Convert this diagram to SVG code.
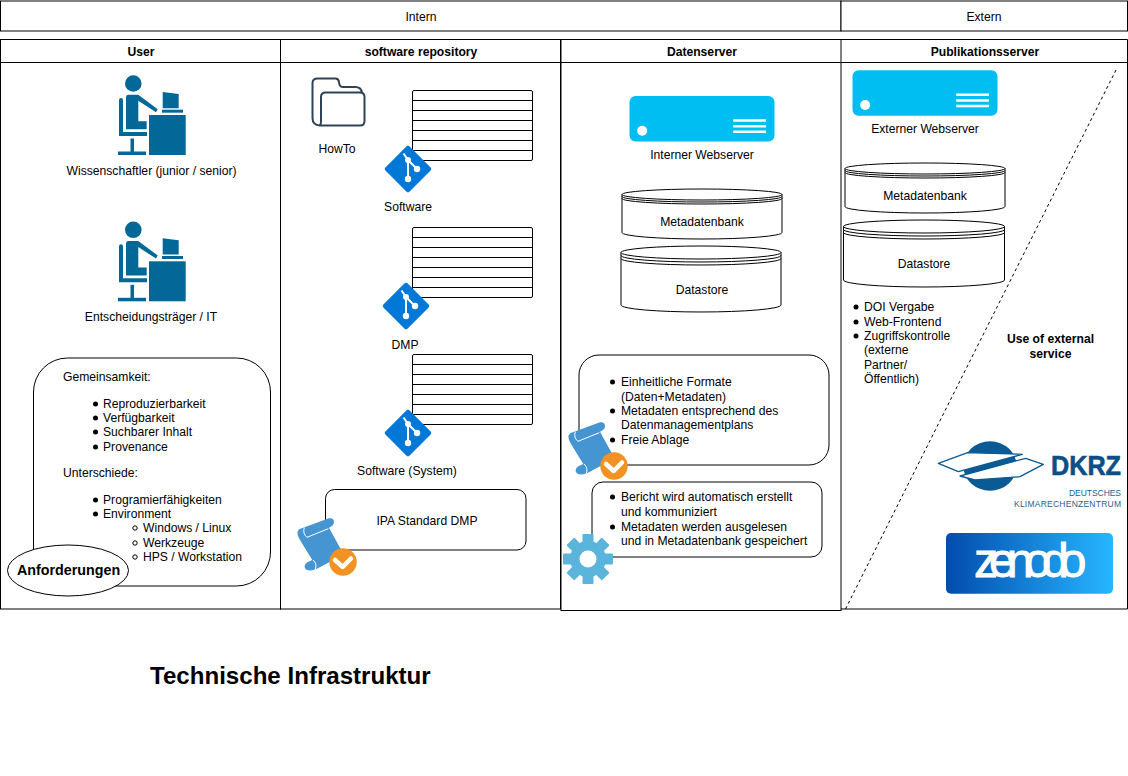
<svg xmlns="http://www.w3.org/2000/svg" width="1128" height="776" viewBox="0 0 1128 776">
<style>
text{font-family:"Liberation Sans",Arial,sans-serif;font-size:12.150px;fill:#000}
.c{text-anchor:middle}
.b{font-weight:bold}
.box{fill:#fff;stroke:#000;stroke-width:1}
.line{fill:none;stroke:#000;stroke-width:1}
.dot{fill:#000}
.odot{fill:#fff;stroke:#000;stroke-width:1}
.srv{fill:#00bef2}
.srvl{stroke:#fff;stroke-width:2.500}
</style>
<defs>
<linearGradient id="zg" x1="0" x2="1" y1="0" y2="0"><stop offset="0" stop-color="#024cae"/><stop offset="1" stop-color="#26b6ff"/></linearGradient>
<g id="person" fill="#036897">
<circle cx="133.3" cy="83.5" r="8.3"/>
<path d="M119 100q0-2 2-2h0q2 0 2 2V132H147V136H119Z"/>
<rect x="130.5" y="138.5" width="3.500" height="14"/>
<rect x="118" y="151.500" width="28" height="3.500"/>
<path d="M126 97q0-2.300 2.500-2.300H138.300L157.700 109.300L156 112.300L138.300 100.700V121.300H146.700V129.300H126Z"/>
<rect x="149" y="115" width="36.700" height="40"/>
<rect x="162" y="109.700" width="21" height="3"/>
<path d="M162.700 92L178.700 94V108.300H162.700Z"/>
</g>
<g id="git">
<rect x="-17" y="-17" width="34" height="34" rx="2" fill="#0078d7" transform="rotate(45)"/>
<path d="M-4.500 -15.500L0 -9V10M0 -9L9 0" fill="none" stroke="#fff" stroke-width="2"/>
<circle cx="0" cy="10" r="3.200" fill="#fff"/><circle cx="9" cy="0" r="3.200" fill="#fff"/><circle cx="0" cy="-9" r="3" fill="#fff"/>
</g>
<g id="rows">
<rect x="0" y="0" width="120" height="70" rx="1.500" class="box"/>
<path class="line" d="M0 10H120M0 20H120M0 30H120M0 40H120M0 50H120M0 60H120"/>
</g>
<g id="server">
<rect x="0" y="0" width="145" height="45.500" rx="6" class="srv"/>
<circle cx="12.700" cy="34.700" r="5" fill="#fff"/>
<path class="srvl" d="M103.700 24.500H136.500M103.700 30.300H136.500M103.700 35.800H136.500"/>
</g>
<g id="scroll">
<g transform="translate(285 480) scale(.33333)">
<path fill="#4495d1" d="M42 148L132 115Q147 113 147 127Q147 137 132 143L170 212L135 245L93 268Q65 278 59 262Q57 250 75 243L82 240L50 188Q30 160 42 148Z"/>
<path fill="none" stroke="#fff" stroke-width="3" d="M58 143Q52 160 66 172L130 146M84 240Q98 252 90 270"/>
</g>
<circle cx="343" cy="562" r="13.700" fill="#f29222"/>
<path d="M335 560L342.700 567L351 558.500" fill="none" stroke="#fff" stroke-width="4.500" stroke-linecap="round" stroke-linejoin="round"/>
</g>
</defs>

<g id="connectors">
<path d="M1116 70L845 610" fill="none" stroke="#000" stroke-dasharray="3 3"/>
</g>

<g id="band-intern"><rect class="box" x="0.500" y="1" width="840.500" height="30"/><text class="c" x="421" y="21">Intern</text></g>
<g id="band-extern"><rect class="box" x="841" y="1" width="286.500" height="30"/><text class="c" x="984" y="21">Extern</text></g>

<g id="lane-user"><rect x="0.500" y="39.500" width="280" height="569.500" fill="none" stroke="#000"/><path class="line" d="M0.500 62.500H280.500"/><text class="c b" x="141" y="56">User</text></g>
<g id="lane-repo"><rect x="280.500" y="39.500" width="280" height="569.500" fill="none" stroke="#000"/><path class="line" d="M280.500 62.500H560.500"/><text class="c b" x="421" y="56">software repository</text></g>
<g id="lane-daten"><rect x="561" y="39.500" width="280" height="571" fill="none" stroke="#000"/><path class="line" d="M561 62.500H841"/><text class="c b" x="702" y="56">Datenserver</text></g>
<g id="lane-pub"><path fill="none" stroke="#000" d="M841 39.500H1127.500V609H841M841 62.500H1127.500"/><text class="c b" x="985" y="56">Publikationsserver</text></g>

<g id="wissenschaftler"><use href="#person"/><text class="c" x="151.500" y="175">Wissenschaftler (junior / senior)</text></g>
<g id="entscheidung"><use href="#person" y="146.300"/><text class="c" x="151" y="321">Entscheidungsträger / IT</text></g>

<g id="anforderungen">
<rect class="box" x="33.500" y="358" width="237" height="228" rx="34"/>
<text x="63" y="381">Gemeinsamkeit:</text>
<circle class="dot" cx="95.500" cy="404" r="2.500"/><text x="103" y="408">Reproduzierbarkeit</text>
<circle class="dot" cx="95.500" cy="418" r="2.500"/><text x="103" y="422">Verfügbarkeit</text>
<circle class="dot" cx="95.500" cy="432" r="2.500"/><text x="103" y="436">Suchbarer Inhalt</text>
<circle class="dot" cx="95.500" cy="447" r="2.500"/><text x="103" y="451">Provenance</text>
<text x="63" y="477">Unterschiede:</text>
<circle class="dot" cx="95.500" cy="500" r="2.500"/><text x="103" y="504">Programierfähigkeiten</text>
<circle class="dot" cx="95.500" cy="514" r="2.500"/><text x="103" y="518">Environment</text>
<circle class="odot" cx="135" cy="528" r="2.200"/><text x="143" y="532">Windows / Linux</text>
<circle class="odot" cx="135" cy="543" r="2.200"/><text x="143" y="547">Werkzeuge</text>
<circle class="odot" cx="135" cy="557" r="2.200"/><text x="143" y="561">HPS / Workstation</text>
<ellipse class="box" cx="68" cy="570.500" rx="60.500" ry="25.500"/>
<text class="c b" x="68.500" y="575" style="font-size:14.300px">Anforderungen</text>
</g>

<g id="howto">
<path fill="none" stroke="#2f4358" stroke-width="2" stroke-linejoin="round" d="M320 125.500Q312.500 125 312.500 118V83Q312.500 78.500 317.500 78.500H335.500Q338.500 78.500 339 82Q339.500 87 342.500 87H355.500Q361 87 362 92.500M325.500 92.500H360Q364.500 92.500 364.500 97V121Q364.500 125.500 360 125.500H320Q321 124.500 321 121V97Q321 92.500 325.500 92.500Z"/>
<text class="c" x="337" y="153">HowTo</text>
</g>

<g id="software">
<use href="#rows" x="412.500" y="90.500"/>
<use href="#git" x="408" y="169"/>
<text class="c" x="408" y="211">Software</text>
</g>
<g id="dmp">
<use href="#rows" x="412.500" y="227.500"/>
<use href="#git" x="406" y="306"/>
<text class="c" x="405" y="349">DMP</text>
</g>
<g id="software-system">
<use href="#rows" x="412.500" y="354.500"/>
<use href="#git" x="408" y="433"/>
<text class="c" x="407" y="475">Software (System)</text>
</g>
<g id="ipa">
<rect class="box" x="325.500" y="489.500" width="200.500" height="60.500" rx="9"/>
<text class="c" x="427" y="525">IPA Standard DMP</text>
<use href="#scroll"/>
</g>

<g id="interner-webserver"><use href="#server" x="629.500" y="96"/><text class="c" x="702" y="159">Interner Webserver</text></g>
<g id="metadatenbank-int">
<path class="box" d="M622 194.500V232.500A80 6.500 0 0 0 782 232.500V194.500"/>
<ellipse class="box" cx="702" cy="194.500" rx="80" ry="5.500"/>
<path class="line" d="M622 196.500A80 5.500 0 0 0 782 196.500M622 198.500A80 5.500 0 0 0 782 198.500"/>
<text class="c" x="702" y="226">Metadatenbank</text>
</g>
<g id="datastore-int">
<path class="box" d="M621 252.500V305A80 7 0 0 0 781 305V252.500"/>
<ellipse class="box" cx="701" cy="252.500" rx="80" ry="6.500"/>
<path class="line" d="M621 255.500A80 6.500 0 0 0 781 255.500M621 258.500A80 6.500 0 0 0 781 258.500"/>
<text class="c" x="702" y="294">Datastore</text>
</g>

<g id="formate">
<rect class="box" x="579" y="355" width="250" height="110" rx="20"/>
<circle class="dot" cx="612.500" cy="382" r="2.500"/><text x="621" y="386">Einheitliche Formate</text>
<text x="621" y="401">(Daten+Metadaten)</text>
<circle class="dot" cx="612.500" cy="411" r="2.500"/><text x="621" y="415">Metadaten entsprechend des</text>
<text x="621" y="429">Datenmanagementplans</text>
<circle class="dot" cx="612.500" cy="440" r="2.500"/><text x="621" y="444">Freie Ablage</text>
<use href="#scroll" x="271" y="-96"/>
</g>
<g id="bericht">
<rect class="box" x="592" y="482" width="230" height="75" rx="11"/>
<circle class="dot" cx="612.500" cy="497" r="2.500"/><text x="621" y="501">Bericht wird automatisch erstellt</text>
<text x="621" y="516">und kommuniziert</text>
<circle class="dot" cx="612.500" cy="527" r="2.500"/><text x="621" y="531">Metadaten werden ausgelesen</text>
<text x="621" y="545">und in Metadatenbank gespeichert</text>
<g fill="#5ab4db" transform="translate(588 559)">
<circle r="18"/>
<rect x="-5.500" y="-25" width="11" height="50" rx="1"/>
<rect x="-5.500" y="-25" width="11" height="50" rx="1" transform="rotate(45)"/>
<rect x="-5.500" y="-25" width="11" height="50" rx="1" transform="rotate(90)"/>
<rect x="-5.500" y="-25" width="11" height="50" rx="1" transform="rotate(135)"/>
<circle r="8.500" fill="#fff"/>
</g>
</g>

<g id="externer-webserver"><use href="#server" x="852.500" y="70.300"/><text class="c" x="925" y="133">Externer Webserver</text></g>
<g id="metadatenbank-ext">
<path class="box" d="M845 168.500V206.500A80 6.500 0 0 0 1005 206.500V168.500"/>
<ellipse class="box" cx="925" cy="168.500" rx="80" ry="5.500"/>
<path class="line" d="M845 170.500A80 5.500 0 0 0 1005 170.500M845 172.500A80 5.500 0 0 0 1005 172.500"/>
<text class="c" x="925" y="200">Metadatenbank</text>
</g>
<g id="datastore-ext">
<path class="box" d="M843.500 226.500V280A80.500 7 0 0 0 1004.500 280V226.500"/>
<ellipse class="box" cx="924" cy="226.500" rx="80.500" ry="6.500"/>
<path class="line" d="M843.500 229.500A80.500 6.500 0 0 0 1004.500 229.500M843.500 232.500A80.500 6.500 0 0 0 1004.500 232.500"/>
<text class="c" x="924" y="268">Datastore</text>
</g>
<g id="pub-list">
<circle class="dot" cx="856" cy="307" r="2.500"/><text x="864" y="311">DOI Vergabe</text>
<circle class="dot" cx="856" cy="322" r="2.500"/><text x="864" y="326">Web-Frontend</text>
<circle class="dot" cx="856" cy="336" r="2.500"/><text x="864" y="340">Zugriffskontrolle</text>
<text x="864" y="354">(externe</text>
<text x="864" y="369">Partner/</text>
<text x="864" y="383">Öffentlich)</text>
</g>
<g id="external-note">
<text class="c b" x="1050.500" y="343">Use of external</text>
<text class="c b" x="1050.500" y="358">service</text>
</g>

<g id="dkrz">
<g transform="translate(925 430) scale(.33333)">
<ellipse cx="195" cy="108" rx="80" ry="74" fill="#0b5a94"/>
<path fill="#fff" stroke="#0b5a94" stroke-width="4" stroke-linejoin="round" d="M40 100L128 68L292 73L100 125Z"/>
<path fill="#fff" stroke="#0b5a94" stroke-width="4" stroke-linejoin="round" d="M105 138L302 85L355 103L285 140L150 150Z"/>
</g>
<text x="1051" y="475" textLength="70" lengthAdjust="spacingAndGlyphs" style="font-size:28px;font-weight:bold;fill:#0b4f86;stroke:#0b4f86;stroke-width:.6">DKRZ</text>
<text x="1069" y="495.500" textLength="52" lengthAdjust="spacing" style="font-size:8.500px;fill:#1f5f8f">DEUTSCHES</text>
<text x="1014" y="507" textLength="107" lengthAdjust="spacing" style="font-size:8.500px;fill:#1f5f8f">KLIMARECHENZENTRUM</text>
</g>
<g id="zenodo">
<rect x="946" y="533" width="167" height="60.700" rx="5" fill="url(#zg)"/>
<text x="974" y="577" style="font-size:48px;letter-spacing:-9px;fill:#fff;stroke:#fff;stroke-width:.8">zenodo</text>
</g>

<text id="title" class="b" x="150" y="684" style="font-size:24.100px">Technische Infrastruktur</text>
</svg>
